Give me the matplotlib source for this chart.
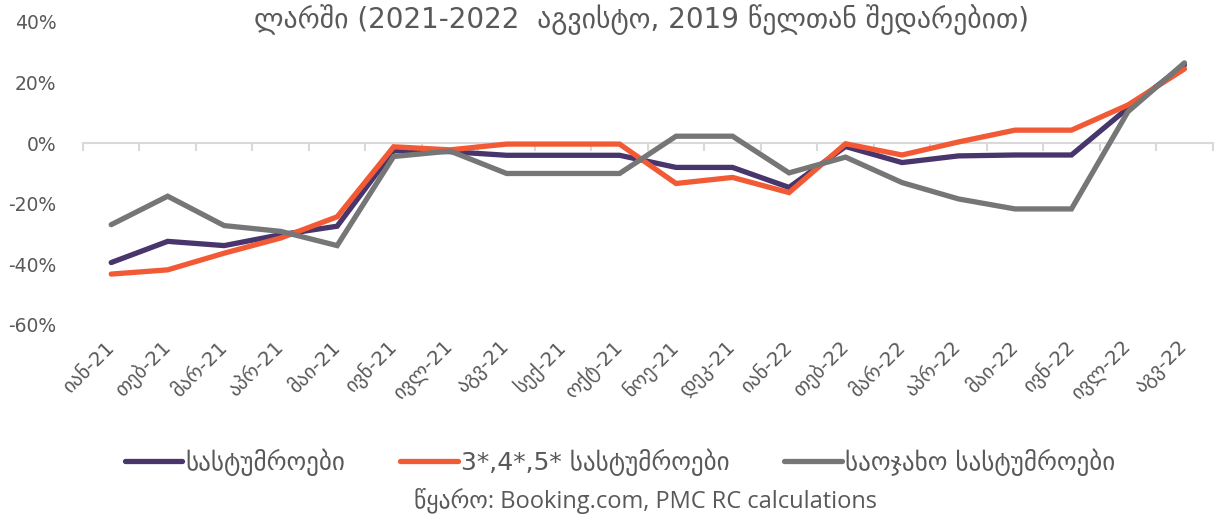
import matplotlib
matplotlib.use("Agg")
import matplotlib.pyplot as plt
import numpy as np

months = ['იან-21', 'თებ-21', 'მარ-21', 'აპრ-21', 'მაი-21', 'ივნ-21',
          'ივლ-21', 'აგვ-21', 'სექ-21', 'ოქტ-21', 'ნოე-21', 'დეკ-21',
          'იან-22', 'თებ-22', 'მარ-22', 'აპრ-22', 'მაი-22', 'ივნ-22',
          'ივლ-22', 'აგვ-22']

hotels = [-39.4, -32.4, -33.8, -30.2, -27.4, -2.5, -2.8, -4.0, -4.0, -4.0,
          -8.0, -8.0, -14.6, -1.1, -6.4, -4.2, -3.9, -3.9, 11.6, 25.8]
hotels_345 = [-43.2, -41.8, -36.3, -31.3, -24.3, -1.2, -2.2, -0.3, -0.3, -0.3,
              -13.3, -11.3, -16.3, -0.2, -3.9, 0.4, 4.3, 4.3, 12.6, 24.5]
family = [-26.9, -17.5, -27.2, -29.1, -33.8, -4.4, -2.6, -10.0, -10.0, -10.0,
          2.3, 2.3, -9.8, -4.6, -13.0, -18.4, -21.7, -21.7, 10.4, 26.5]

series_labels = ['სასტუმროები', '3*,4*,5* სასტუმროები', 'საოჯახო სასტუმროები']
colors = ['#47356b', '#f15a35', '#767676']

title_text = 'ლარში (2021-2022  აგვისტო, 2019 წელთან შედარებით)'
source_text = 'წყარო: Booking.com, PMC RC calculations'

text_color = '#595959'
grid_color = '#d9d9d9'

fig = plt.figure(figsize=(12.2, 5.18), dpi=100)
ax = fig.add_axes([0.068, 0.3726, 0.926, 0.585])

x = np.arange(len(months))
for vals, lab, col in zip([hotels, hotels_345, family], series_labels, colors):
    ax.plot(x, vals, color=col, lw=3.8, label=lab, solid_joinstyle='miter',
            solid_capstyle='round')

ax.set_xlim(-0.5, len(months) - 0.5)
ax.set_ylim(-60, 40)
ax.set_yticks(np.arange(-60, 41, 20))
ax.set_yticklabels([f'{v}%' for v in range(-60, 41, 20)])
ax.tick_params(axis='y', length=0, labelsize=13.5, labelcolor=text_color, pad=19)

for s in ['top', 'right', 'left']:
    ax.spines[s].set_visible(False)
ax.spines['bottom'].set_position(('data', 0))
ax.spines['bottom'].set_color(grid_color)
ax.spines['bottom'].set_linewidth(1.5)
ax.spines['bottom'].set_zorder(0)
ax.set_xticks(x)
ax.set_xticks(np.arange(-0.5, len(months)), minor=True)
ax.tick_params(axis='x', which='major', length=0, labelbottom=False)
ax.tick_params(axis='x', which='minor', length=6, width=1.5, color=grid_color)

sec = ax.secondary_xaxis('bottom')
sec.set_xticks(x)
sec.set_xticklabels(months, rotation=45, ha='right', va='center',
                    rotation_mode='anchor')
sec.tick_params(axis='x', length=0, labelsize=14.5, labelcolor=text_color, pad=14)
sec.spines['bottom'].set_visible(False)

fig.legend(loc='center', bbox_to_anchor=(0.508, 0.108), ncol=3, frameon=False,
           fontsize=18, labelcolor=text_color, handlelength=2.3,
           handletextpad=0.12, columnspacing=2.2)

fig.text(0.526, 0.962, title_text, ha='center', va='center', fontsize=20,
         color=text_color)
fig.text(0.529, 0.033, source_text, ha='center', va='center', fontsize=17,
         color=text_color, family=['Open Sans', 'DejaVu Sans'])

fig.savefig('out.png', dpi=100)
